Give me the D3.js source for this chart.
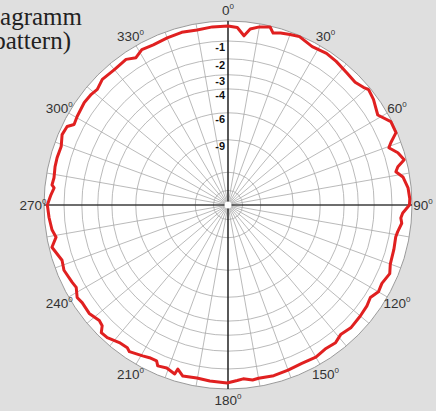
<!DOCTYPE html>
<html>
<head>
<meta charset="utf-8">
<script src="https://cdn.jsdelivr.net/npm/d3@7"></script>
<style>
  html, body { margin: 0; padding: 0; background: #dfdfdf; }
  svg { display: block; }
</style>
</head>
<body>
<svg id="chart"></svg>
<script>
// pattern: azimuth (deg, clockwise from top) and level (dB)
const azimuth = [0, 3, 5.4, 7.2, 10, 13.3, 14.7, 17, 20, 23, 28, 33, 37, 42, 46, 49, 50.6, 54, 59, 62.9,
  66.7, 69, 70.4, 72.9, 75.6, 77.3, 78.8, 80.9, 84.6, 88, 90, 92.6, 94.3, 96, 99, 100.8, 105, 110, 113, 117,
  120, 123, 126, 130, 135, 139, 142, 146, 150, 155, 160, 165, 170, 172, 175, 177, 180.3, 185.9, 190.2, 194.8,
  197, 197.5, 200.6, 203.6, 204.6, 207.2, 209.5, 213.9, 215.2, 218.3, 222.3, 224.8, 226.2, 228.1, 232, 236.2, 238.5, 241.5, 243.6, 248.3,
  251.6, 256.5, 259.4, 262, 266, 270, 271.6, 273.3, 275.6, 276.5, 278.9, 282.5, 285.5, 289.3, 293, 296, 297.6, 300.4, 305.5, 309,
  311.5, 315, 320, 325, 328, 331, 335, 340, 345, 350, 355];
const level = [-0.24, -0.3, -0.69, -0.32, -0.15, -0.05, -0.3, -0.2, -0.12, -0.05, -0.22, -0.15, -0.2, -0.3, -0.35, -0.22, -0.1, -0.2, -0.45, -0.05,
  -0.05, -0.46, -0.65, -0.3, -0.1, -0.48, -0.63, -0.33, -0.15, -0.1, -0.12, -0.44, -0.52, -0.45, -0.6, -0.65, -0.6, -0.55, -0.4, -0.55,
  -0.5, -0.7, -0.6, -0.55, -0.5, -0.6, -0.45, -0.5, -0.4, -0.45, -0.4, -0.35, -0.39, -0.35, -0.46, -0.4, -0.29, -0.34, -0.4, -0.34,
  -0.61, -0.33, -0.48, -0.41, -0.61, -0.6, -0.52, -0.35, -0.45, -0.42, -0.22, -0.2, -0.47, -0.54, -0.38, -0.41, -0.34, -0.55, -0.49, -0.36,
  -0.44, -0.14, -0.44, -0.3, -0.22, -0.16, -0.24, -0.32, -0.45, -0.33, -0.38, -0.33, -0.32, -0.35, -0.18, -0.24, -0.5, -0.44, -0.36, -0.39,
  -0.46, -0.3, -0.35, -0.3, -0.5, -0.3, -0.35, -0.3, -0.25, -0.3, -0.25];

const rings = [0, -1, -2, -3, -4, -6, -9, -15, -22];
const ringLabels = [-1, -2, -3, -4, -6, -9];
const angleTicks = [0, 30, 60, 90, 120, 150, 180, 210, 240, 270, 300, 330];
const spokes = d3.range(0, 360, 10);
const titleLines = ["Richtdiagramm", "(Radiation pattern)"];

const width = 436, height = 411;
const cx = 228, cy = 205, R = 184;
const sans = "'Liberation Sans', Arial, sans-serif";
const serif = "'Liberation Serif', 'Times New Roman', serif";

const svg = d3.select('#chart').attr('width', width).attr('height', height);
svg.append('rect').attr('width', width).attr('height', height).attr('fill', '#dfdfdf');

// field strength (linear voltage) scale
const r = d3.scaleLinear().domain([0, 1]).range([0, R]);
const rdb = db => r(Math.pow(10, db / 20));
const rad = deg => deg * Math.PI / 180;

const g = svg.append('g').attr('transform', `translate(${cx},${cy})`);

g.append('circle').attr('r', R).attr('fill', '#fff').attr('stroke', '#9a9a9a').attr('stroke-width', 1);

g.selectAll('circle.ring')
  .data(rings.slice(1))
  .enter().append('circle')
  .attr('class', 'ring')
  .attr('r', d => rdb(d))
  .attr('fill', 'none')
  .attr('stroke', '#a8a8a8')
  .attr('stroke-width', 0.8);

g.selectAll('line.spoke')
  .data(spokes)
  .enter().append('line')
  .attr('class', 'spoke')
  .attr('x1', d => 3 * Math.sin(rad(d)))
  .attr('y1', d => -3 * Math.cos(rad(d)))
  .attr('x2', d => R * Math.sin(rad(d)))
  .attr('y2', d => -R * Math.cos(rad(d)))
  .attr('stroke', '#a8a8a8')
  .attr('stroke-width', 0.8);

// black cross
g.append('line').attr('x1', 0).attr('x2', 0).attr('y1', -R).attr('y2', R).attr('stroke', '#000').attr('stroke-width', 1.2);
g.append('line').attr('x1', -R).attr('x2', R).attr('y1', 0).attr('y2', 0).attr('stroke', '#000').attr('stroke-width', 1.2);
g.append('circle').attr('r', 3.5).attr('fill', '#fff');

// ring labels
g.selectAll('text.db')
  .data(ringLabels)
  .enter().append('text')
  .attr('class', 'db')
  .attr('x', -3)
  .attr('y', d => -rdb(d) + 10)
  .attr('text-anchor', 'end')
  .attr('font-family', sans)
  .attr('font-weight', 'bold')
  .attr('font-size', 11)
  .attr('fill', '#111')
  .text(d => d);

// pattern line
const pts = azimuth.map((a, i) => [rad(a), rdb(level[i])]);
const line = d3.lineRadial().angle(d => d[0]).radius(d => d[1]).curve(d3.curveLinearClosed);
g.append('path')
  .attr('d', line(pts))
  .attr('fill', 'none')
  .attr('stroke', '#e02020')
  .attr('stroke-width', 3)
  .attr('stroke-linejoin', 'round');

// angle labels
const lbl = g.selectAll('text.ang')
  .data(angleTicks)
  .enter().append('text')
  .attr('class', 'ang')
  .attr('x', d => 195 * Math.sin(rad(d)))
  .attr('y', d => -195 * Math.cos(rad(d)) + 5)
  .attr('text-anchor', 'middle')
  .attr('font-family', sans)
  .attr('font-size', 13.5)
  .attr('fill', '#333');
lbl.append('tspan').text(d => d);
lbl.append('tspan').attr('font-size', 8).attr('dy', -6).text('0');

// title, cut off at the left edge
svg.selectAll('text.title')
  .data(titleLines)
  .enter().append('text')
  .attr('class', 'title')
  .attr('x', (d, i) => i === 0 ? 82 : 71)
  .attr('y', (d, i) => 25 + i * 24)
  .attr('text-anchor', 'end')
  .attr('font-family', serif)
  .attr('font-size', 25)
  .attr('fill', '#222')
  .text(d => d);
</script>
</body>
</html>
